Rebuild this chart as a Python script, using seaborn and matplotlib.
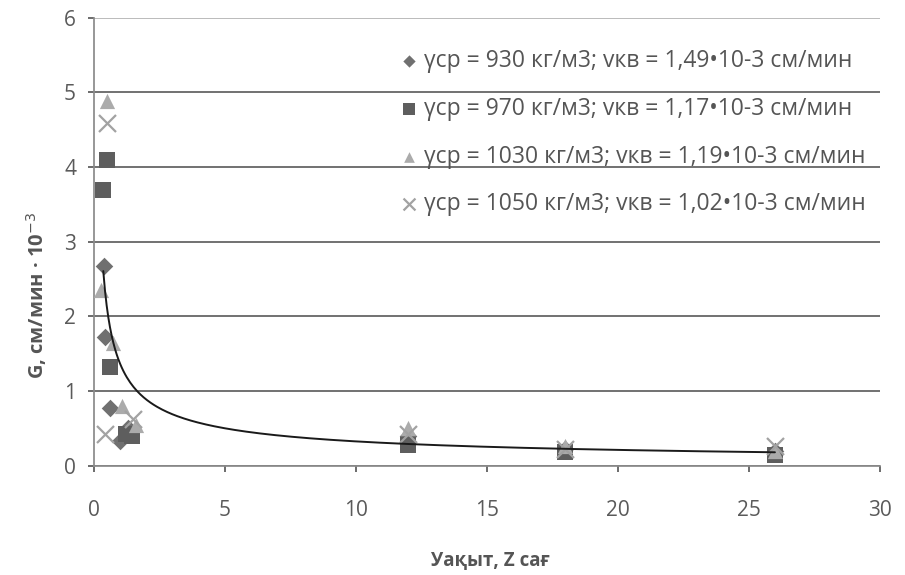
import numpy as np
import pandas as pd
import matplotlib
matplotlib.use("Agg")
import matplotlib.pyplot as plt
import seaborn as sns

# Measured deposition rate G over time for four densities
labels = [
    "γср = 930 кг/м3; vкв = 1,49•10-3 см/мин",
    "γср = 970 кг/м3; vкв = 1,17•10-3 см/мин",
    "γср = 1030 кг/м3; vкв = 1,19•10-3 см/мин",
    "γср = 1050 кг/м3; vкв = 1,02•10-3 см/мин",
]
t_930 = [0.36, 0.42, 0.61, 1.0, 1.3, 12.0, 18.0, 26.0]
g_930 = [2.68, 1.72, 0.78, 0.33, 0.50, 0.40, 0.22, 0.20]
t_970 = [0.33, 0.48, 0.61, 1.2, 1.45, 12.0, 18.0, 26.0]
g_970 = [3.69, 4.09, 1.32, 0.42, 0.40, 0.28, 0.18, 0.15]
t_1030 = [0.48, 0.25, 0.74, 1.05, 1.6, 12.0, 18.0, 26.0]
g_1030 = [4.88, 2.35, 1.64, 0.80, 0.55, 0.50, 0.27, 0.20]
t_1050 = [0.48, 0.42, 1.5, 12.0, 18.0, 26.0]
g_1050 = [4.59, 0.42, 0.62, 0.42, 0.22, 0.26]

# Power trend G = a * t^b
trend_a = 1.36
trend_b = -0.62
trend_t0, trend_t1 = 0.35, 26.0

x_ticks = [0, 5, 10, 15, 20, 25, 30]
y_ticks = [0, 1, 2, 3, 4, 5, 6]

series = [(t_930, g_930), (t_970, g_970), (t_1030, g_1030), (t_1050, g_1050)]
rows = []
for lab, (ts, gs) in zip(labels, series):
    for t, g in zip(ts, gs):
        rows.append({"t": t, "G": g, "series": lab})
df = pd.DataFrame(rows)

sns.set_theme(style="white")
plt.rcParams["font.family"] = ["Open Sans", "DejaVu Sans"]

fig = plt.figure(figsize=(9.05, 5.75), dpi=100)
ax = fig.add_axes([0.104, 0.19, 0.868, 0.779])

palette = dict(zip(labels, ["#707070", "#5e5e5e", "#ababab", "#a2a2a2"]))
markers = dict(zip(labels, ["D", "s", "^", "x"]))
sizes = {labels[0]: 80, labels[1]: 140, labels[2]: 120, labels[3]: 150}

for lab in labels:
    sub = df[df["series"] == lab]
    sns.scatterplot(data=sub, x="t", y="G", ax=ax, color=palette[lab],
                    marker=markers[lab], s=sizes[lab],
                    linewidth=1.6 if markers[lab] == "x" else 0,
                    edgecolor=None, label=lab, zorder=3)

tt = np.linspace(trend_t0, trend_t1, 400)
ax.plot(tt, trend_a * tt ** trend_b, color="#1a1a1a", lw=1.4, zorder=4)

ax.set_xlim(0, 30)
ax.set_ylim(0, 6)
ax.set_xticks(x_ticks)
ax.set_yticks(y_ticks)
ax.yaxis.grid(True, color="#4a4a4a", lw=1.1)
ax.yaxis.get_gridlines()[-1].set_color("#a8a8a8")
ax.set_axisbelow(True)
for side in ["top", "right"]:
    ax.spines[side].set_visible(False)
ax.spines["left"].set_color("#8a8a8a")
ax.spines["bottom"].set_color("#8a8a8a")
ax.tick_params(axis="x", colors="#5a5a5a", labelsize=15, pad=21, length=4,
               direction="out", bottom=True)
ax.tick_params(axis="y", colors="#5a5a5a", labelsize=15, pad=9, length=4,
               direction="out", left=True)

ax.set_xlabel("Уақыт, Z сағ", fontsize=13.5, fontweight="bold", color="#555555")
ax.set_ylabel("G, см/мин · 10$^{-3}$", fontsize=14.5, fontweight="bold", color="#555555")
ax.xaxis.set_label_coords(0.504, -0.19)
ax.yaxis.set_label_coords(-0.058, 0.38)

leg = ax.legend(loc="upper left", bbox_to_anchor=(0.372, 0.955), frameon=False,
                fontsize=16.5, labelspacing=1.03, handletextpad=0.15, handlelength=1.0,
                borderpad=0, markerscale=0.7)
for txt in leg.get_texts():
    txt.set_color("#555555")

fig.savefig("out.png", dpi=100, facecolor="white")
